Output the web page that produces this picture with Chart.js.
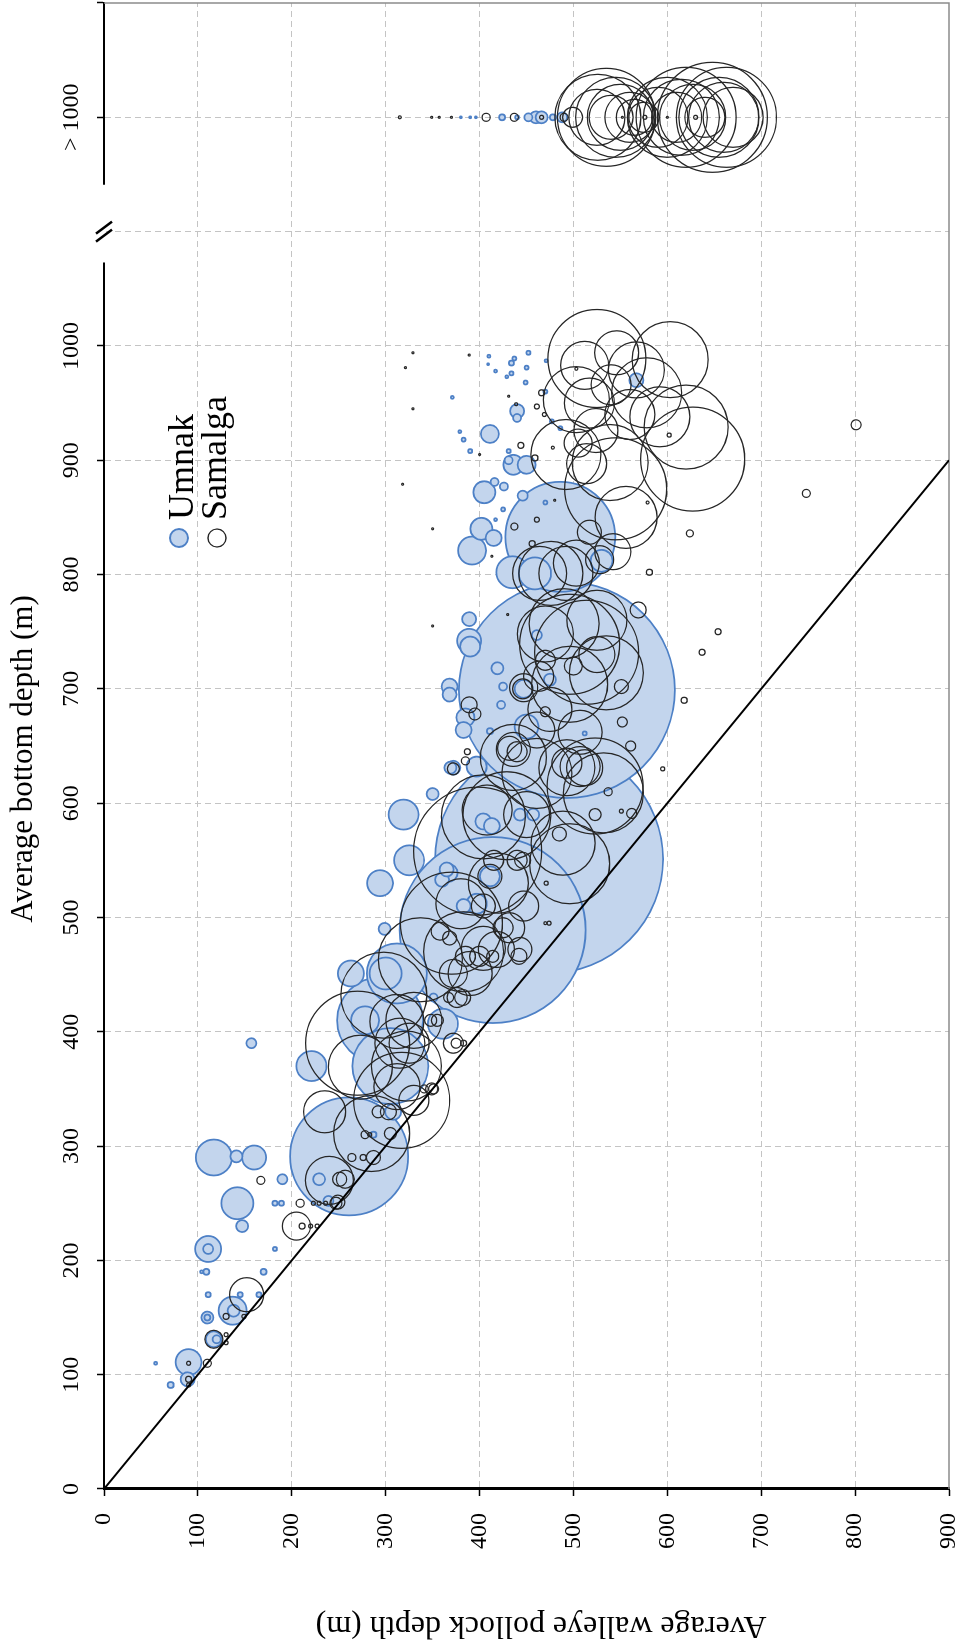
<!DOCTYPE html>
<html>
<head>
<meta charset="utf-8">
<script src="https://cdn.jsdelivr.net/npm/chart.js@4"></script>
<style>
  html, body { margin: 0; padding: 0; background: #fff; }
  body { width: 961px; height: 1646px; overflow: hidden; position: relative; }
  /* the figure is printed turned a quarter turn, so the chart is drawn upright and rotated */
  #turn { position: absolute; left: 0; top: 0; width: 1646px; height: 961px;
          transform-origin: 0 0; transform: translateY(1646px) rotate(-90deg); }
</style>
</head>
<body>
<div id="turn"><canvas id="depth-chart" width="1646" height="961"></canvas></div>
<script>
// [average bottom depth, average pollock depth, bubble radius]
const umnakHauls = [
  [699, 493, 108], [551, 474, 114], [489, 414, 93], [291, 261, 59], [833, 486, 55],
  [410, 294, 43], [370, 305, 38], [451, 312, 30], [451, 300, 16], [451, 263, 13],
  [410, 278, 14], [407, 361, 15], [590, 319, 15], [550, 325, 15], [530, 294, 13],
  [490, 299, 6], [608, 350, 6], [631, 369, 6], [702, 368, 8], [695, 368, 7],
  [675, 385, 9], [664, 383, 8], [737, 390, 10], [742, 389, 12], [761, 389, 7],
  [718, 419, 6], [702, 425, 4], [686, 423, 4], [663, 411, 3], [747, 461, 5],
  [539, 367, 9], [533, 360, 7], [542, 365, 7], [631, 372, 7], [632, 397, 10],
  [661, 512, 2], [667, 450, 12], [512, 397, 10], [510, 383, 7], [536, 411, 10],
  [590, 457, 6], [590, 443, 6], [584, 404, 8], [580, 413, 8], [700, 447, 9],
  [708, 475, 6], [923, 411, 9], [943, 440, 7], [937, 440, 4], [896, 436, 10],
  [896, 450, 9], [872, 405, 11], [881, 416, 4], [877, 426, 4], [840, 402, 11],
  [832, 415, 8], [821, 392, 14], [869, 446, 5], [802, 435, 16], [801, 459, 16],
  [812, 530, 11], [970, 567, 7],
  [985, 434, 2.5], [994, 452, 2], [989, 437, 2], [981, 450, 2], [968, 449, 2],
  [976, 434, 2], [973, 429, 1.5], [978, 417, 1.5], [991, 410, 1.5], [984, 409, 1],
  [960, 470, 2], [987, 471, 1.5], [934, 477, 2], [928, 486, 2], [908, 431, 2],
  [900, 431, 4], [918, 383, 2], [925, 379, 1.5], [908, 390, 2], [955, 371, 1.5],
  [863, 470, 2], [857, 425, 2], [848, 417, 1.5],
  [430, 351, 4], [310, 287, 3], [330, 308, 8], [390, 157, 5], [370, 221, 15],
  [290, 117, 18], [291, 141, 6], [290, 160, 12], [271, 190, 5], [250, 142, 16],
  [230, 147, 6], [250, 182, 2.5], [250, 189, 2.5], [271, 229, 6], [252, 239, 5],
  [210, 111, 13], [210, 111, 5], [210, 182, 2], [190, 109, 3], [190, 104, 1.5],
  [190, 170, 3], [170, 111, 2.5], [170, 145, 2.5], [170, 165, 2.5], [156, 137, 14],
  [156, 138, 6], [150, 110, 6], [150, 110, 3], [131, 117, 8], [131, 120, 4],
  [111, 90, 13], [96, 89, 7], [91, 71, 3], [110, 55, 1.5]
];

const samalgaHauls = [
  [989, 525, 49], [988, 603, 38], [983, 512, 24], [994, 546, 22], [979, 567, 28],
  [959, 578, 35], [953, 503, 33], [950, 517, 25], [938, 592, 30], [929, 620, 42],
  [901, 627, 52], [905, 492, 35], [898, 539, 38], [926, 524, 22], [897, 514, 20],
  [875, 545, 51], [850, 556, 31], [820, 542, 18], [837, 517, 12], [813, 528, 14],
  [801, 464, 27], [801, 492, 27], [801, 476, 32], [810, 503, 23], [966, 540, 20],
  [940, 560, 25], [915, 505, 14],
  [836, 624, 3.5], [802, 581, 3], [750, 654, 3], [769, 569, 8], [902, 459, 3],
  [913, 444, 3], [947, 461, 2.5], [959, 466, 3], [940, 469, 2], [922, 602, 2],
  [842, 437, 3.5], [848, 461, 2.5], [827, 456, 3], [931, 801, 5], [871, 748, 4],
  [732, 637, 3], [690, 618, 3],
  [994, 329, 1], [992, 389, 1], [981, 321, 1], [945, 329, 1], [879, 318, 1],
  [840, 350, 1], [956, 431, 1], [949, 439, 1.5], [905, 400, 1], [911, 478, 1.5],
  [980, 503, 1.5], [865, 480, 1], [816, 413, 1], [765, 430, 1], [755, 350, 1],
  [863, 579, 1.5],
  [732, 514, 52], [739, 496, 50], [704, 496, 38], [714, 535, 37], [730, 525, 18],
  [702, 551, 7], [701, 447, 14], [711, 463, 15], [682, 475, 22], [662, 507, 22],
  [635, 493, 15], [632, 507, 20], [615, 523, 48], [647, 436, 17], [648, 432, 12],
  [645, 440, 10], [640, 436, 33], [626, 461, 35], [589, 429, 44], [590, 450, 23],
  [588, 404, 42], [594, 408, 25], [565, 489, 32], [547, 496, 40], [609, 532, 40],
  [558, 398, 64], [664, 461, 18], [631, 493, 28], [631, 512, 18], [757, 490, 35],
  [760, 525, 30], [748, 470, 28],
  [671, 552, 5], [650, 561, 5], [630, 595, 2], [593, 551, 2], [591, 562, 5],
  [610, 537, 4], [590, 523, 6], [530, 471, 2], [495, 474, 2], [495, 470, 1.5],
  [686, 389, 8], [678, 395, 6], [637, 385, 4], [645, 387, 3], [630, 372, 6],
  [725, 470, 10], [720, 500, 9], [573, 485, 7], [680, 470, 5], [700, 446, 10],
  [510, 447, 15], [491, 432, 15], [491, 425, 10], [510, 404, 12], [536, 411, 12],
  [550, 415, 10], [550, 440, 10], [550, 446, 8], [495, 370, 51], [488, 358, 9],
  [482, 368, 7], [466, 385, 10], [466, 400, 10], [466, 414, 6], [466, 442, 8],
  [463, 337, 42], [470, 383, 40], [473, 404, 22], [472, 418, 18], [472, 443, 12],
  [512, 380, 25], [530, 420, 30],
  [390, 270, 52], [330, 235, 21], [270, 240, 24], [311, 285, 38], [230, 205, 14],
  [230, 211, 3], [230, 220, 2], [230, 227, 2], [250, 209, 4], [250, 223, 2],
  [250, 229, 2], [250, 236, 2], [250, 247, 6], [251, 249, 7], [271, 251, 7],
  [271, 257, 9], [270, 167, 4], [290, 264, 4], [290, 276, 3], [290, 287, 7],
  [310, 278, 4], [310, 283, 2], [330, 292, 6], [330, 303, 8], [311, 305, 6],
  [340, 317, 48], [340, 330, 15], [369, 273, 32], [352, 312, 23], [370, 322, 35],
  [390, 315, 25], [390, 325, 20], [350, 351, 5], [350, 341, 4], [350, 349, 6],
  [432, 298, 43], [410, 330, 28], [390, 372, 10], [390, 375, 5], [390, 383, 3],
  [409, 312, 27], [430, 376, 10], [430, 382, 8], [430, 367, 5], [451, 372, 14],
  [451, 390, 22], [410, 348, 6], [410, 355, 6], [170, 152, 17], [151, 130, 3],
  [151, 149, 2], [131, 117, 9], [135, 130, 2], [128, 130, 2], [110, 110, 4],
  [110, 90, 2], [96, 90, 3], [91, 90, 2]
];

// hauls over bottoms deeper than 1000 m: [average pollock depth, bubble radius]
const umnakDeep = [
  [380, 1], [390, 1], [396, 1], [424, 3], [440, 2], [452, 4], [460, 6], [466, 6],
  [478, 3], [488, 5]
];
const samalgaDeep = [
  [315, 1.5], [349, 1], [357, 1], [370, 1], [407, 4], [437, 4], [466, 2], [490, 4],
  [499, 10], [535, 49], [526, 43], [545, 40], [550, 33], [560, 25], [565, 18],
  [575, 15], [590, 30], [600, 40], [610, 25], [615, 38], [620, 50], [627, 33],
  [640, 20], [648, 55], [660, 35], [663, 50], [670, 30], [655, 40], [525, 28],
  [540, 22], [576, 2], [630, 2], [552, 1], [600, 1]
];

const seriesNames = ['Umnak', 'Samalga'];
const deepLabel = '> 1000';
const bottomTitle = 'Average bottom depth (m)';
const pollockTitle = 'Average walleye pollock depth (m)';

const DEEP_SLOT = 1200;   // where the "> 1000" row sits past the axis break
const BREAK_AT = 1100;
const BOTTOM_MAX = 1300;
const POLLOCK_MAX = 900;

const toPoints = rows => rows.map(([b, p, r]) => ({ x: b, y: p, r }));
const deepPoints = rows => rows.map(([p, r]) => ({ x: DEEP_SLOT, y: p, r }));
const bigFirst = pts => pts.sort((a, b) => b.r - a.r);

const BLUE_FILL = '#c3d5ed';
const BLUE_EDGE = '#4d80c6';
const INK = '#262626';
const SERIF = '"Liberation Serif", "Times New Roman", serif';

Chart.defaults.font.family = SERIF;
Chart.defaults.color = '#000';

const clear = 'rgba(0,0,0,0)';
const gridColor = edge => c => (c.tick && (c.tick.value === 0 || c.tick.value === edge)) ? clear : '#c4c4c4';

const decorations = {
  id: 'decorations',
  beforeDatasetsDraw(chart) {
    const { ctx, chartArea: a } = chart;
    ctx.save();
    ctx.strokeStyle = '#8c8c8c';
    ctx.lineWidth = 1.5;
    ctx.beginPath();
    ctx.moveTo(a.right, a.top);
    ctx.lineTo(a.right, a.bottom);
    ctx.lineTo(a.left, a.bottom);
    ctx.stroke();
    ctx.restore();
  },
  afterDraw(chart) {
    const { ctx, chartArea: a, scales: { x } } = chart;
    ctx.save();
    // axis break
    const g0 = x.getPixelForValue(1073), g1 = x.getPixelForValue(1141), gm = x.getPixelForValue(BREAK_AT);
    ctx.fillStyle = '#fff';
    ctx.fillRect(g0, a.top - 2, g1 - g0, 4);
    ctx.strokeStyle = '#000';
    ctx.lineWidth = 2.5;
    [-4, 4].forEach(o => {
      ctx.beginPath();
      ctx.moveTo(gm + o - 6, a.top - 8);
      ctx.lineTo(gm + o + 6, a.top + 8);
      ctx.stroke();
    });

    // axis titles (sit a little off the axis centres in the original)
    ctx.fillStyle = '#000';
    ctx.textAlign = 'center';
    ctx.textBaseline = 'middle';
    ctx.font = '31px ' + SERIF;
    ctx.fillText(bottomTitle, a.left + 730, 24);
    ctx.save();
    ctx.translate(21, a.top + 437);
    ctx.rotate(-Math.PI / 2);
    ctx.font = '32px ' + SERIF;
    ctx.fillText(pollockTitle, 0, 0);
    ctx.restore();

    // legend
    ctx.font = '36px ' + SERIF;
    ctx.textAlign = 'left';
    ctx.textBaseline = 'alphabetic';
    const lx = a.left + 951;
    [[75, 89, BLUE_FILL, BLUE_EDGE, 2], [113, 122, '#fff', INK, 1.3]].forEach(([cy, by, fill, edge, w], i) => {
      ctx.beginPath();
      ctx.arc(lx, a.top + cy, 9, 0, Math.PI * 2);
      ctx.fillStyle = fill;
      ctx.fill();
      ctx.lineWidth = w;
      ctx.strokeStyle = edge;
      ctx.stroke();
      ctx.fillStyle = '#000';
      ctx.fillText(seriesNames[i], lx + 18, a.top + by);
    });
    ctx.restore();
  }
};

new Chart(document.getElementById('depth-chart'), {
  type: 'bubble',
  data: {
    datasets: [
      {
        type: 'line', label: '1:1', order: 0,
        data: [{ x: 0, y: 0 }, { x: POLLOCK_MAX, y: POLLOCK_MAX }],
        borderColor: '#000', borderWidth: 2, pointRadius: 0, fill: false
      },
      {
        label: seriesNames[1], order: 1,
        data: bigFirst(toPoints(samalgaHauls).concat(deepPoints(samalgaDeep))),
        backgroundColor: clear, borderColor: INK, borderWidth: 1.25
      },
      {
        label: seriesNames[0], order: 2,
        data: bigFirst(toPoints(umnakHauls).concat(deepPoints(umnakDeep))),
        backgroundColor: BLUE_FILL, borderColor: BLUE_EDGE, borderWidth: 1.75
      }
    ]
  },
  options: {
    responsive: false,
    animation: false,
    events: [],
    layout: { autoPadding: false, padding: { left: 0, top: 0, right: 3, bottom: 12 } },
    plugins: { legend: { display: false }, tooltip: { enabled: false } },
    scales: {
      x: {
        type: 'linear', position: 'top', min: 0, max: BOTTOM_MAX,
        afterFit: s => { s.height = 104; s.paddingLeft = 0; s.paddingRight = 0; },
        ticks: {
          stepSize: 100, autoSkip: false, maxRotation: 0, padding: 13,
          font: { size: 24, lineHeight: 1 }, color: '#000',
          callback: v => v <= 1000 ? String(v) : (v === DEEP_SLOT ? deepLabel : '')
        },
        grid: {
          color: gridColor(BOTTOM_MAX), lineWidth: 1, tickLength: 7, tickWidth: 1.5,
          tickColor: c => (c.tick && c.tick.value === BREAK_AT) ? clear : '#000'
        },
        border: { color: '#000', width: 2, dash: [6, 4] },
        title: { display: false, text: bottomTitle }
      },
      y: {
        type: 'linear', reverse: true, min: 0, max: POLLOCK_MAX,
        afterFit: s => { s.width = 157; s.paddingTop = 0; s.paddingBottom = 0; },
        ticks: {
          stepSize: 100, autoSkip: false, padding: 17,
          font: { size: 24, lineHeight: 1 }, color: '#000'
        },
        grid: { color: gridColor(POLLOCK_MAX), lineWidth: 1, tickLength: 7, tickWidth: 1.5, tickColor: '#000' },
        border: { color: '#000', width: 3, dash: [6, 4] },
        title: { display: false, text: pollockTitle }
      }
    }
  },
  plugins: [decorations]
});
</script>
</body>
</html>
